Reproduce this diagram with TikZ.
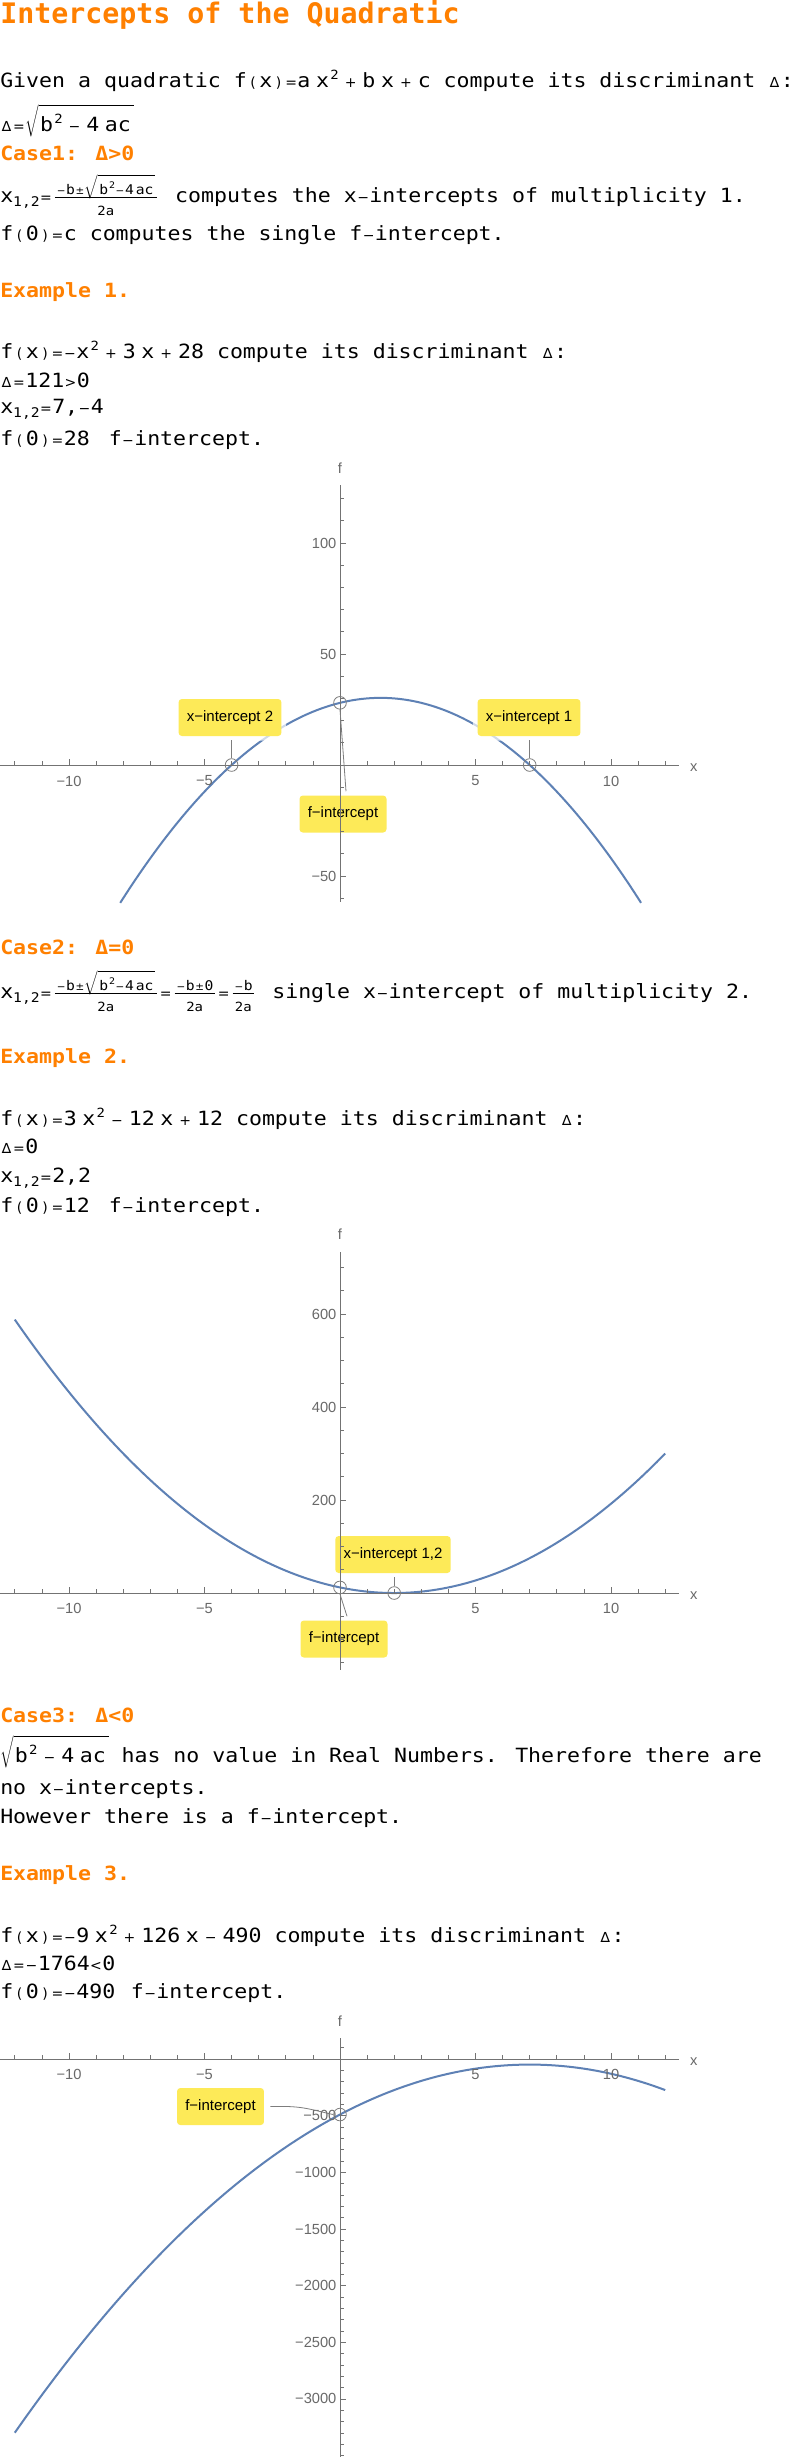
\documentclass[tikz,border=0pt]{standalone}
\usepackage{fontspec}
\newfontfamily\bodyfont{DejaVu Sans Mono}[FakeStretch=1.1]
\newfontfamily\titlefont{DejaVu Sans Mono}
\newfontfamily\opfont{DejaVu Sans}
\newfontfamily\plotfont{Liberation Sans}
\definecolor{hdorange}{RGB}{255,128,0}
\definecolor{curveblue}{RGB}{94,129,181}
\definecolor{axisgray}{RGB}{115,115,115}
\definecolor{labgray}{RGB}{105,105,105}
\definecolor{calloutyellow}{RGB}{253,234,88}
\definecolor{conngray}{RGB}{125,125,125}
\newcommand\bsz{\fontsize{14.7}{17}\selectfont}
\newcommand\op[1]{\makebox[9.4pt]{\opfont\fontsize{10.5}{12}\selectfont #1}}
\newcommand\opn[1]{\makebox[7.4pt]{\opfont\fontsize{7.8}{9}\selectfont #1}}
\newcommand\hy{\op{−}}
\newcommand\ts{\hspace{4.2pt}}
\newcommand\supx[1]{\hspace{1pt}\raisebox{5.5pt}{\fontsize{9.5}{10}\selectfont #1}}
\newcommand\supn[1]{\hspace{0.6pt}\raisebox{3.8pt}{\fontsize{6.8}{7}\selectfont #1}}
\newcommand\subx[1]{\raisebox{-3.5pt}{\fontsize{10}{10}\selectfont #1}}
\newcommand\rootbig[1]{\ensuremath{\sqrt{\hbox{\rule[-2pt]{0pt}{18pt}\hspace{1pt}#1\hspace{2pt}}}}}
\newcommand\rootsm[1]{\ensuremath{\sqrt{\hbox{\rule[-1pt]{0pt}{11.5pt}\hspace{1pt}#1\hspace{1.5pt}}}}}
\newsavebox\fnumbox
\newsavebox\fdenbox
\newdimen\fracwd
\newcommand\fracx[2]{%
  \hspace{2pt}%
  \sbox\fnumbox{\fontsize{10}{11}\selectfont #1}%
  \sbox\fdenbox{\fontsize{9.5}{10}\selectfont #2}%
  \ifdim\wd\fnumbox>\wd\fdenbox \fracwd=\wd\fnumbox \else \fracwd=\wd\fdenbox \fi
  \advance\fracwd by 2pt
  \raisebox{6pt}{\hbox to\fracwd{\hss\usebox\fnumbox\hss}}%
  \kern-\fracwd
  \raisebox{3.3pt}{\rule{\fracwd}{0.6pt}}%
  \kern-\fracwd
  \raisebox{-9.75pt}{\hbox to\fracwd{\hss\usebox\fdenbox\hss}}%
  \hspace{2pt}}
\begin{document}
\begin{tikzpicture}[x=0.75pt, y=-0.75pt]
\tikzset{
  txt/.style={anchor=base west, inner sep=0pt, font=\bodyfont\bsz},
  headtxt/.style={anchor=base west, inner sep=0pt, font=\bodyfont\bfseries\bsz, text=hdorange},
  axisline/.style={draw=axisgray, line width=0.75pt},
  tickline/.style={draw=axisgray, line width=0.6pt},
  ticklab/.style={inner sep=0pt, font=\plotfont\fontsize{11}{12}\selectfont, text=labgray},
  qcurve/.style={draw=curveblue, line width=1.5pt, line join=round},
  icirc/.style={circle, draw=conngray, line width=0.6pt, minimum size=9.5pt, inner sep=0pt},
  calloutbox/.style={fill=calloutyellow, rounded corners=2.5pt, inner xsep=6.2pt, inner ysep=0pt, minimum height=27.75pt, font=\plotfont\fontsize{11.25}{13}\selectfont, text=black, preaction={draw=white, line width=7pt, draw opacity=0.7}},
  conn/.style={draw=conngray, line width=0.6pt},
  plotA/.style={shift={(340,765)}, x=20.325pt, y=1.665pt},
  plotB/.style={shift={(340,1593)}, x=20.325pt, y=0.34875pt},
  plotC/.style={shift={(340,2059)}, x=20.325pt, y=0.084975pt}
}
\fill[white] (0,0) rectangle (796,2457);
\useasboundingbox (0,0) rectangle (796,2457);

% ---------- text part 1
\node[anchor=base west, inner sep=0pt, font=\titlefont\bfseries\fontsize{21.2}{24}\selectfont, text=hdorange] (title) at (0,23) {Intercepts of the Quadratic};
\node[txt] (l2) at (0,87) {Given a quadratic f\op{(}x\op{)}\op{=}a\ts x\supx{2}\ts\op{+}\ts b\ts x\ts\op{+}\ts c compute its discriminant \op{∆}:};
\node[txt] (l3) at (0,131) {\op{∆}\op{=}\rootbig{b\supx{2}\ts\op{−}\ts 4\ts ac}};
\node[headtxt] (l4) at (0,160) {Case1: Δ>0};
\node[txt] (l5) at (0,202) {x\subx{1,2}\op{=}\fracx{\opn{−}b\opn{±}\rootsm{b\supn{2}\opn{−}4\hspace{1.5pt}ac}}{2a}\hspace{2pt} computes the x\hy intercepts of multiplicity 1.};
\node[txt] (l6) at (0,240) {f\op{(}0\op{)}\op{=}c computes the single f\hy intercept.};
\node[headtxt] (l7) at (0,297) {Example 1.};
\node[txt] (l8) at (0,358) {f\op{(}x\op{)}\op{=}\op{−}x\supx{2}\ts\op{+}\ts 3\ts x\ts\op{+}\ts 28 compute its discriminant \op{∆}:};
\node[txt] (l9) at (0,387) {\op{∆}\op{=}121\op{>}0};
\node[txt] (l10) at (0,413) {x\subx{1,2}\op{=}7,\hy 4};
\node[txt] (l11) at (0,445) {f\op{(}0\op{)}\op{=}28\hspace{4.5pt} f\hy intercept.};

% ---------- plot 1
\begin{scope}[plotA]
  \draw[qcurve] plot[domain=-8.11:11.11, samples=150] (\x,{-(\x)*(\x)+3*(\x)+28});
\end{scope}
\node[calloutbox] (p1l2) at (230,717.5) {x−intercept 2};
\node[calloutbox] (p1l1) at (529,717.5) {x−intercept 1};
\node[calloutbox] (p1l0) at (343,814) {f−intercept};
\begin{scope}[plotA]
  \draw[axisline] (-12.55,0) -- (12.5,0);
  \draw[axisline] (0,-61.7) -- (0,126);
  \foreach \i in {-12,...,12} \draw[tickline] (\i,0) -- ++(0pt,3pt);
  \foreach \i in {-10,-5,5,10} \draw[tickline] (\i,0) -- ++(0pt,4.5pt);
  \foreach \i/\t in {-10/−10,-5/−5,5/5,10/10} \node[ticklab] (p1xt\i) at ([yshift=-12pt]\i,0) {\t};
  \foreach \j in {-60,-50,...,120} \draw[tickline] (0,\j) -- ++(3pt,0pt);
  \foreach \j in {-50,50,100} \draw[tickline] (0,\j) -- ++(4.5pt,0pt);
  \foreach \j/\t in {-50/−50,50/50,100/100} \node[ticklab, anchor=east] (p1ft\j) at ([xshift=-2.5pt]0,\j) {\t};
  \node[ticklab, anchor=base west] (p1xl) at ([xshift=8.25pt,yshift=-4.5pt]12.5,0) {x};
  \node[ticklab, anchor=base] (p1fl) at ([yshift=9pt]0,126) {f};
  \node[icirc] (p1c2) at (-4,0) {};
  \node[icirc] (p1c1) at (7,0) {};
  \node[icirc] (p1c0) at (0,28) {};
\end{scope}
\draw[conn, shorten >=3pt] (p1c2.north) -- (p1c2.north |- p1l2.south);
\draw[conn, shorten >=3pt] (p1c1.north) -- (p1c1.north |- p1l1.south);
\draw[conn] (p1c0.south) -- ([xshift=2.25pt,yshift=3pt]p1l0.north);

% ---------- text part 2
\node[headtxt] (l12) at (0,954) {Case2: Δ=0};
\node[txt] (l13) at (0,998) {x\subx{1,2}\op{=}\fracx{\opn{−}b\opn{±}\rootsm{b\supn{2}\opn{−}4\hspace{1.5pt}ac}}{2a}\op{=}\fracx{\opn{−}b\opn{±}0}{2a}\op{=}\fracx{\opn{−}b}{2a}\hspace{2pt} single x\hy intercept of multiplicity 2.};
\node[headtxt] (l14) at (0,1063) {Example 2.};
\node[txt] (l15) at (0,1125) {f\op{(}x\op{)}\op{=}3\ts x\supx{2}\ts\op{−}\ts 12\ts x\ts\op{+}\ts 12 compute its discriminant \op{∆}:};
\node[txt] (l16) at (0,1153) {\op{∆}\op{=}0};
\node[txt] (l17) at (0,1182) {x\subx{1,2}\op{=}2,2};
\node[txt] (l18) at (0,1212) {f\op{(}0\op{)}\op{=}12\hspace{4.5pt} f\hy intercept.};

% ---------- plot 2
\begin{scope}[plotB]
  \draw[qcurve] plot[domain=-12:12, samples=150] (\x,{3*(\x)*(\x)-12*(\x)+12});
\end{scope}
\node[calloutbox] (p2l1) at (393,1554.5) {x−intercept 1,2};
\node[calloutbox] (p2l0) at (344,1639) {f−intercept};
\begin{scope}[plotB]
  \draw[axisline] (-12.55,0) -- (12.5,0);
  \draw[axisline] (0,-165) -- (0,733);
  \foreach \i in {-12,...,12} \draw[tickline] (\i,0) -- ++(0pt,3pt);
  \foreach \i in {-10,-5,5,10} \draw[tickline] (\i,0) -- ++(0pt,4.5pt);
  \foreach \i/\t in {-10/−10,-5/−5,5/5,10/10} \node[ticklab] (p2xt\i) at ([yshift=-11.5pt]\i,0) {\t};
  \foreach \j in {-150,-100,...,700} \draw[tickline] (0,\j) -- ++(3pt,0pt);
  \foreach \j in {200,400,600} \draw[tickline] (0,\j) -- ++(4.5pt,0pt);
  \foreach \j in {200,400,600} \node[ticklab, anchor=east] (p2ft\j) at ([xshift=-2.5pt]0,\j) {\j};
  \node[ticklab, anchor=base west] (p2xl) at ([xshift=8.25pt,yshift=-4.5pt]12.5,0) {x};
  \node[ticklab, anchor=base] (p2fl) at ([yshift=9.5pt]0,733) {f};
  \node[icirc] (p2c0) at (0,12) {};
  \node[icirc] (p2c1) at (2,0) {};
\end{scope}
\draw[conn, shorten >=3pt] (p2c1.north) -- (p2c1.north |- p2l1.south);
\draw[conn] (p2c0.south) -- ([xshift=2.25pt,yshift=3pt]p2l0.north);

% ---------- text part 3
\node[headtxt] (l19) at (0,1722) {Case3: Δ<0};
\node[txt] (l20) at (0,1762) {\rootbig{b\supx{2}\ts\op{−}\ts 4\ts ac} has no value in Real Numbers. Therefore there are};
\node[txt] (l21) at (0,1794) {no x\hy intercepts.};
\node[txt] (l22) at (0,1823) {However there is a f\hy intercept.};
\node[headtxt] (l23) at (0,1880) {Example 3.};
\node[txt] (l24) at (0,1942) {f\op{(}x\op{)}\op{=}\op{−}9\ts x\supx{2}\ts\op{+}\ts 126\ts x\ts\op{−}\ts 490 compute its discriminant \op{∆}:};
\node[txt] (l25) at (0,1970) {\op{∆}\op{=}\op{−}1764\op{<}0};
\node[txt] (l26) at (0,1998) {f\op{(}0\op{)}\op{=}\op{−}490\hspace{2pt} f\hy intercept.};

% ---------- plot 3
\begin{scope}[plotC]
  \draw[qcurve] plot[domain=-12:12, samples=150] (\x,{-9*(\x)*(\x)+126*(\x)-490});
\end{scope}
\node[calloutbox] (p3l0) at (220.5,2106.5) {f−intercept};
\begin{scope}[plotC]
  \draw[axisline] (-12.55,0) -- (12.5,0);
  \draw[axisline] (0,-3520) -- (0,185);
  \foreach \i in {-12,...,12} \draw[tickline] (\i,0) -- ++(0pt,3pt);
  \foreach \i in {-10,-5,5,10} \draw[tickline] (\i,0) -- ++(0pt,4.5pt);
  \foreach \i/\t in {-10/−10,-5/−5,5/5,10/10} \node[ticklab] (p3xt\i) at ([yshift=-11.5pt]\i,0) {\t};
  \foreach \j in {-3500,-3400,...,100} \draw[tickline] (0,\j) -- ++(3pt,0pt);
  \foreach \j in {-3000,-2500,...,-500} \draw[tickline] (0,\j) -- ++(4.5pt,0pt);
  \foreach \j/\t in {-500/500,-1000/1000,-1500/1500,-2000/2000,-2500/2500,-3000/3000} \node[ticklab, anchor=east] (p3ft\t) at ([xshift=-2.5pt]0,\j) {−\t};
  \node[ticklab, anchor=base west] (p3xl) at ([xshift=8.25pt,yshift=-4.5pt]12.5,0) {x};
  \node[ticklab, anchor=base] (p3fl) at ([yshift=9pt]0,185) {f};
  \node[icirc] (p3c0) at (0,-490) {};
\end{scope}
\draw[conn] ([xshift=4.5pt]p3l0.east) -- ++(15,0) .. controls +(20,0) and +(-15,-3) .. (p3c0.west);
\end{tikzpicture}
\end{document}
